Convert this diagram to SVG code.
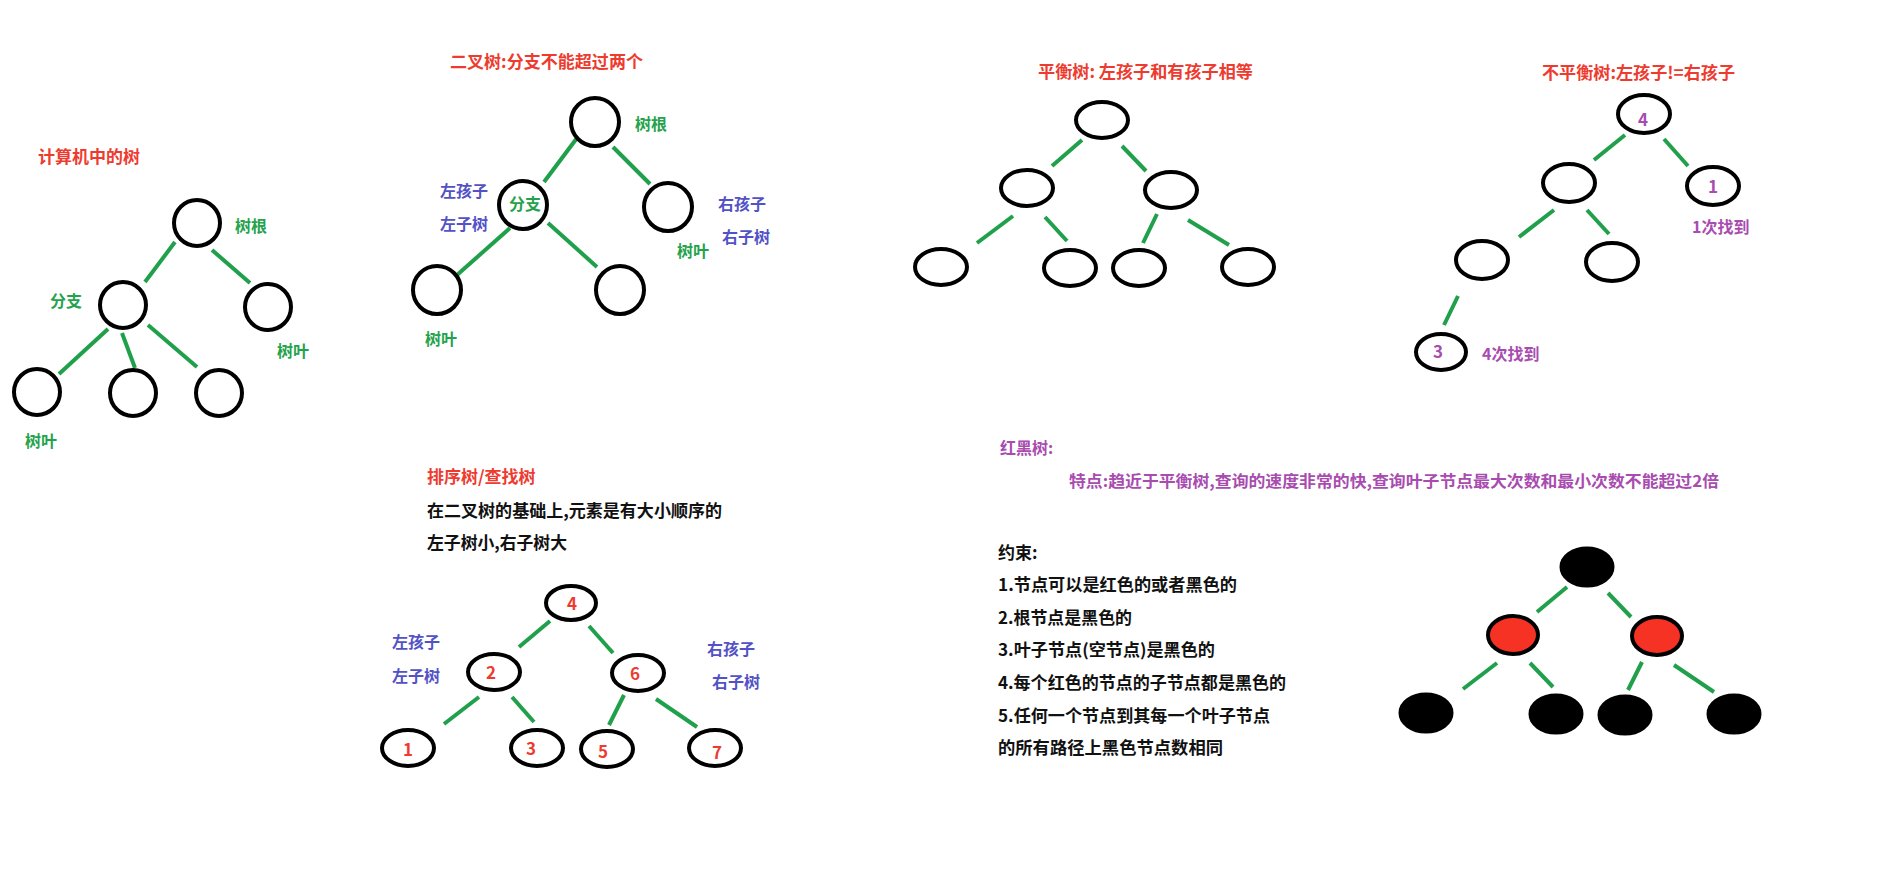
<svg xmlns="http://www.w3.org/2000/svg" width="1878" height="872" viewBox="0 0 1878 872">
<style>
text{font-family:"Noto Sans CJK SC","Liberation Sans",sans-serif;font-weight:bold;dominant-baseline:central;transform:translate(0px,-2px)}
.t{fill:#ee3b30;font-size:17px}
.g{fill:#25a24c;font-size:16px}
.b{fill:#5252c6;font-size:16px}
.p{fill:#a84caf;font-size:16px}
.k{fill:#111;font-size:17px}
.n{fill:none;stroke:#000;stroke-width:4}
.rb{fill:#000;stroke:#000;stroke-width:3}
.rr{fill:#f53224;stroke:#000;stroke-width:4}
.num{fill:#ee3b30;font-size:17px;text-anchor:middle}
.nump{fill:#a84caf;font-size:17px;text-anchor:middle}
#edges line{stroke:#21a04c;stroke-width:4}
</style>
<rect width="1878" height="872" fill="#fff"/>

<g id="edges">
<line x1="175" y1="242" x2="145" y2="282"/>
<line x1="212" y1="250" x2="250" y2="283"/>
<line x1="108" y1="329" x2="59" y2="374"/>
<line x1="122" y1="333" x2="135" y2="368"/>
<line x1="148" y1="325" x2="197" y2="367"/>
<line x1="577" y1="138" x2="544" y2="182"/>
<line x1="613" y1="147" x2="650" y2="184"/>
<line x1="510" y1="228" x2="457" y2="275"/>
<line x1="548" y1="223" x2="597" y2="267"/>
<line x1="1082" y1="140" x2="1052" y2="166"/>
<line x1="1122" y1="146" x2="1146" y2="171"/>
<line x1="1013" y1="216" x2="977" y2="243"/>
<line x1="1045" y1="217" x2="1067" y2="241"/>
<line x1="1157" y1="214" x2="1143" y2="243"/>
<line x1="1188" y1="220" x2="1229" y2="245"/>
<line x1="1625" y1="135" x2="1594" y2="160"/>
<line x1="1664" y1="139" x2="1688" y2="166"/>
<line x1="1554" y1="210" x2="1519" y2="237"/>
<line x1="1587" y1="210" x2="1609" y2="234"/>
<line x1="1458" y1="296" x2="1444" y2="325"/>
<line x1="550" y1="621" x2="519" y2="647"/>
<line x1="589" y1="626" x2="613" y2="653"/>
<line x1="479" y1="697" x2="444" y2="724"/>
<line x1="512" y1="697" x2="534" y2="722"/>
<line x1="624" y1="695" x2="609" y2="725"/>
<line x1="656" y1="699" x2="697" y2="727"/>
<line x1="1567" y1="587" x2="1537" y2="612"/>
<line x1="1608" y1="593" x2="1631" y2="617"/>
<line x1="1497" y1="663" x2="1463" y2="689"/>
<line x1="1530" y1="663" x2="1553" y2="687"/>
<line x1="1642" y1="662" x2="1628" y2="690"/>
<line x1="1674" y1="665" x2="1714" y2="692"/>
</g>

<g id="tree1">
<text class="t" x="38" y="157">计算机中的树</text>
<g id="t1-root"><circle class="n" cx="197" cy="223" r="23"/></g>
<text class="g" x="235" y="227">树根</text>
<g id="t1-branch"><circle class="n" cx="123" cy="305" r="23"/></g>
<text class="g" x="50" y="302">分支</text>
<g id="t1-right"><circle class="n" cx="268" cy="307" r="23"/></g>
<text class="g" x="277" y="352">树叶</text>
<g id="t1-l1"><circle class="n" cx="37" cy="392" r="23"/></g>
<g id="t1-l2"><circle class="n" cx="133" cy="393" r="23"/></g>
<g id="t1-l3"><circle class="n" cx="219" cy="393" r="23"/></g>
<text class="g" x="25" y="442">树叶</text>
</g>

<g id="tree2">
<text class="t" x="450" y="62" textLength="193" lengthAdjust="spacingAndGlyphs">二叉树:分支不能超过两个</text>
<g id="t2-root"><circle class="n" cx="595" cy="122" r="24"/></g>
<text class="g" x="635" y="125">树根</text>
<g id="t2-branch"><circle class="n" cx="523" cy="205" r="24"/>
<text class="g" x="525" y="205" text-anchor="middle">分支</text></g>
<text class="b" x="440" y="192">左孩子</text>
<text class="b" x="440" y="225">左子树</text>
<g id="t2-right"><circle class="n" cx="668" cy="207" r="24"/></g>
<text class="b" x="718" y="205">右孩子</text>
<text class="b" x="722" y="238">右子树</text>
<text class="g" x="677" y="252">树叶</text>
<g id="t2-l1"><circle class="n" cx="437" cy="290" r="24"/></g>
<g id="t2-l2"><circle class="n" cx="620" cy="290" r="24"/></g>
<text class="g" x="425" y="340">树叶</text>
</g>

<g id="tree3">
<text class="t" x="1038" y="72" textLength="215" lengthAdjust="spacingAndGlyphs">平衡树: 左孩子和有孩子相等</text>
<g id="t3-root"><ellipse class="n" cx="1102" cy="120" rx="26" ry="18"/></g>
<g id="t3-a"><ellipse class="n" cx="1027" cy="188" rx="26" ry="18"/></g>
<g id="t3-b"><ellipse class="n" cx="1171" cy="190" rx="26" ry="18"/></g>
<g id="t3-c"><ellipse class="n" cx="941" cy="267" rx="26" ry="18"/></g>
<g id="t3-d"><ellipse class="n" cx="1070" cy="268" rx="26" ry="18"/></g>
<g id="t3-e"><ellipse class="n" cx="1139" cy="268" rx="26" ry="18"/></g>
<g id="t3-f"><ellipse class="n" cx="1248" cy="267" rx="26" ry="18"/></g>
</g>

<g id="tree4">
<text class="t" x="1542" y="73" textLength="193" lengthAdjust="spacingAndGlyphs">不平衡树:左孩子!=右孩子</text>
<g id="t4-root"><ellipse class="n" cx="1644" cy="114" rx="26" ry="19"/><text class="nump" x="1643" y="120">4</text></g>
<g id="t4-a"><ellipse class="n" cx="1569" cy="183" rx="26" ry="19"/></g>
<g id="t4-b"><ellipse class="n" cx="1713" cy="186" rx="26" ry="19"/><text class="nump" x="1713" y="187">1</text></g>
<text class="p" x="1692" y="228">1次找到</text>
<g id="t4-c"><ellipse class="n" cx="1482" cy="260" rx="26" ry="19"/></g>
<g id="t4-d"><ellipse class="n" cx="1612" cy="262" rx="26" ry="19"/></g>
<g id="t4-e"><ellipse class="n" cx="1441" cy="352" rx="25" ry="18"/><text class="nump" x="1438" y="352">3</text></g>
<text class="p" x="1482" y="355">4次找到</text>
</g>

<g id="tree5">
<text class="t" x="427" y="477">排序树/查找树</text>
<text class="k" x="427" y="511" textLength="295" lengthAdjust="spacingAndGlyphs">在二叉树的基础上,元素是有大小顺序的</text>
<text class="k" x="427" y="543" textLength="140" lengthAdjust="spacingAndGlyphs">左子树小,右子树大</text>
<g id="t5-4"><ellipse class="n" cx="571" cy="603" rx="25" ry="17"/><text class="num" x="572" y="604">4</text></g>
<g id="t5-2"><ellipse class="n" cx="494" cy="672" rx="26" ry="18"/><text class="num" x="491" y="673">2</text></g>
<g id="t5-6"><ellipse class="n" cx="638" cy="673" rx="26" ry="18"/><text class="num" x="635" y="674">6</text></g>
<g id="t5-1"><ellipse class="n" cx="408" cy="748" rx="26" ry="18"/><text class="num" x="408" y="750">1</text></g>
<g id="t5-3"><ellipse class="n" cx="537" cy="748" rx="26" ry="18"/><text class="num" x="531" y="749">3</text></g>
<g id="t5-5"><ellipse class="n" cx="607" cy="749" rx="26" ry="18"/><text class="num" x="603" y="752">5</text></g>
<g id="t5-7"><ellipse class="n" cx="715" cy="748" rx="26" ry="18"/><text class="num" x="717" y="753">7</text></g>
<text class="b" x="392" y="643">左孩子</text>
<text class="b" x="392" y="677">左子树</text>
<text class="b" x="707" y="650">右孩子</text>
<text class="b" x="712" y="683">右子树</text>
</g>

<g id="rbtree">
<text class="p" x="1000" y="449">红黑树:</text>
<text class="p" x="1069" y="482" font-size="17" textLength="650" lengthAdjust="spacingAndGlyphs">特点:趋近于平衡树,查询的速度非常的快,查询叶子节点最大次数和最小次数不能超过2倍</text>
<text class="k" x="998" y="553">约束:</text>
<text class="k" x="998" y="585" textLength="239" lengthAdjust="spacingAndGlyphs">1.节点可以是红色的或者黑色的</text>
<text class="k" x="998" y="618" textLength="134" lengthAdjust="spacingAndGlyphs">2.根节点是黑色的</text>
<text class="k" x="998" y="650" textLength="217" lengthAdjust="spacingAndGlyphs">3.叶子节点(空节点)是黑色的</text>
<text class="k" x="998" y="683" textLength="288" lengthAdjust="spacingAndGlyphs">4.每个红色的节点的子节点都是黑色的</text>
<text class="k" x="998" y="716" textLength="272" lengthAdjust="spacingAndGlyphs">5.任何一个节点到其每一个叶子节点</text>
<text class="k" x="998" y="748" textLength="225" lengthAdjust="spacingAndGlyphs">的所有路径上黑色节点数相同</text>
<g id="rb-root"><ellipse class="rb" cx="1587" cy="567" rx="26" ry="19"/></g>
<g id="rb-r1"><ellipse class="rr" cx="1513" cy="635" rx="25" ry="19"/></g>
<g id="rb-r2"><ellipse class="rr" cx="1657" cy="636" rx="25" ry="19"/></g>
<g id="rb-b1"><ellipse class="rb" cx="1426" cy="713" rx="26" ry="19"/></g>
<g id="rb-b2"><ellipse class="rb" cx="1556" cy="714" rx="26" ry="19"/></g>
<g id="rb-b3"><ellipse class="rb" cx="1625" cy="715" rx="26" ry="19"/></g>
<g id="rb-b4"><ellipse class="rb" cx="1734" cy="714" rx="26" ry="19"/></g>
</g>
</svg>
